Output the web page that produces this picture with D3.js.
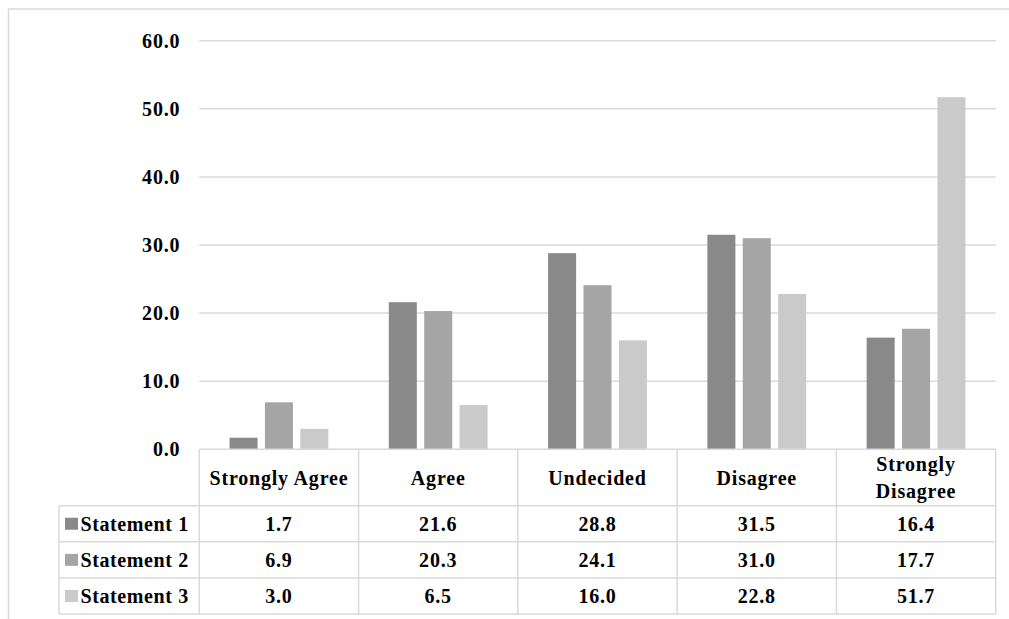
<!DOCTYPE html>
<html>
<head>
<meta charset="utf-8">
<script src="https://cdn.jsdelivr.net/npm/d3@7"></script>
<style>
html,body{margin:0;padding:0;background:#fff;}
svg{display:block;}
text{font-family:"Liberation Serif","Times New Roman",serif;font-weight:bold;fill:#000;}
</style>
</head>
<body>
<svg id="chart" width="1009" height="619"></svg>
<script>
const categories = ["Strongly Agree", "Agree", "Undecided", "Disagree", "Strongly Disagree"];
const categoryLines = [["Strongly Agree"], ["Agree"], ["Undecided"], ["Disagree"], ["Strongly", "Disagree"]];
const seriesNames = ["Statement 1", "Statement 2", "Statement 3"];
const statement1 = [1.7, 21.6, 28.8, 31.5, 16.4];
const statement2 = [6.9, 20.3, 24.1, 31.0, 17.7];
const statement3 = [3.0, 6.5, 16.0, 22.8, 51.7];
const yTicks = [0, 10, 20, 30, 40, 50, 60];
const seriesColors = ["#898989", "#a5a5a5", "#cacaca"];

const seriesValues = [statement1, statement2, statement3];

const svg = d3.select("#chart");
const gridColor = "#d9d9d9";

// outer frame (clipped at right/bottom like the reference)
svg.append("rect")
  .attr("x", 8.5).attr("y", 9)
  .attr("width", 1020).attr("height", 630)
  .attr("fill", "none").attr("stroke", gridColor).attr("stroke-width", 1.5);

const plotLeft = 199.3, plotRight = 995.7;
const y = d3.scaleLinear().domain([0, 60]).range([449.3, 40.7]);
const x = d3.scaleBand().domain(categories).range([plotLeft, plotRight]).paddingInner(0).paddingOuter(0);
const xs = d3.scaleBand().domain(seriesNames).range([0, x.bandwidth()]).paddingInner(0.209).paddingOuter(0.854);

// gridlines
svg.append("g").selectAll("line")
  .data(yTicks.filter(d => d > 0))
  .join("line")
  .attr("x1", plotLeft).attr("x2", plotRight)
  .attr("y1", d => y(d)).attr("y2", d => y(d))
  .attr("stroke", gridColor).attr("stroke-width", 1.5);

// y axis labels
const yAxis = d3.axisLeft(y).tickValues(yTicks).tickFormat(d3.format(".1f")).tickSize(0).tickPadding(19);
const yg = svg.append("g").attr("transform", `translate(${plotLeft},0)`).call(yAxis);
yg.select(".domain").remove();
yg.selectAll("text")
  .attr("font-size", 20)
  .attr("font-family", "Liberation Serif")
  .attr("font-weight", "bold")
  .attr("fill", "#000")
  .style("letter-spacing", "0.8px");

// bars
const groups = svg.append("g").selectAll("g")
  .data(categories)
  .join("g")
  .attr("transform", d => `translate(${x(d)},0)`);

groups.selectAll("rect")
  .data((c, ci) => seriesNames.map((s, si) => ({s, si, v: seriesValues[si][ci]})))
  .join("rect")
  .attr("x", d => xs(d.s))
  .attr("width", xs.bandwidth())
  .attr("y", d => y(d.v))
  .attr("height", d => y(0) - y(d.v))
  .attr("fill", d => seriesColors[d.si]);

// data table
const tableTop = y(0);
const headerBottom = 505.7;
const rowH = (614 - headerBottom) / 3;
const legendLeft = 59;
const tableG = svg.append("g");
const rowYs = seriesNames.map((s, i) => headerBottom + i * rowH);

// horizontal lines
tableG.append("line").attr("x1", plotLeft).attr("x2", plotRight).attr("y1", tableTop).attr("y2", tableTop);
[headerBottom, ...rowYs.map(r => r + rowH)].forEach(yy => {
  tableG.append("line").attr("x1", legendLeft).attr("x2", plotRight).attr("y1", yy).attr("y2", yy);
});
// vertical lines
tableG.append("line").attr("x1", legendLeft).attr("x2", legendLeft).attr("y1", headerBottom).attr("y2", 614);
categories.forEach(c => {
  tableG.append("line").attr("x1", x(c)).attr("x2", x(c)).attr("y1", tableTop).attr("y2", 614);
});
tableG.append("line").attr("x1", plotRight).attr("x2", plotRight).attr("y1", tableTop).attr("y2", 614);
tableG.selectAll("line").attr("stroke", gridColor).attr("stroke-width", 1.5);

// header texts
categories.forEach((c, i) => {
  const lines = categoryLines[i];
  const cy = (tableTop + headerBottom) / 2;
  const lh = 26.7;
  lines.forEach((ln, li) => {
    tableG.append("text")
      .attr("x", x(c) + x.bandwidth() / 2)
      .attr("y", cy + (li - (lines.length - 1) / 2) * lh)
      .attr("dy", "0.35em")
      .attr("text-anchor", "middle")
      .attr("font-size", 20)
      .style("letter-spacing", "0.8px")
      .text(ln);
  });
});

// rows
seriesNames.forEach((s, si) => {
  const cy = rowYs[si] + rowH / 2;
  tableG.append("rect")
    .attr("x", 65).attr("y", cy - 6)
    .attr("width", 13).attr("height", 12)
    .attr("fill", seriesColors[si]);
  tableG.append("text")
    .attr("x", 80.5).attr("y", cy).attr("dy", "0.35em")
    .attr("font-size", 20)
    .style("letter-spacing", "0.6px")
    .text(s);
  categories.forEach((c, ci) => {
    tableG.append("text")
      .attr("x", x(c) + x.bandwidth() / 2)
      .attr("y", cy).attr("dy", "0.35em")
      .attr("text-anchor", "middle")
      .attr("font-size", 20)
      .style("letter-spacing", "0.8px")
      .text(d3.format(".1f")(seriesValues[si][ci]));
  });
});
</script>
</body>
</html>
